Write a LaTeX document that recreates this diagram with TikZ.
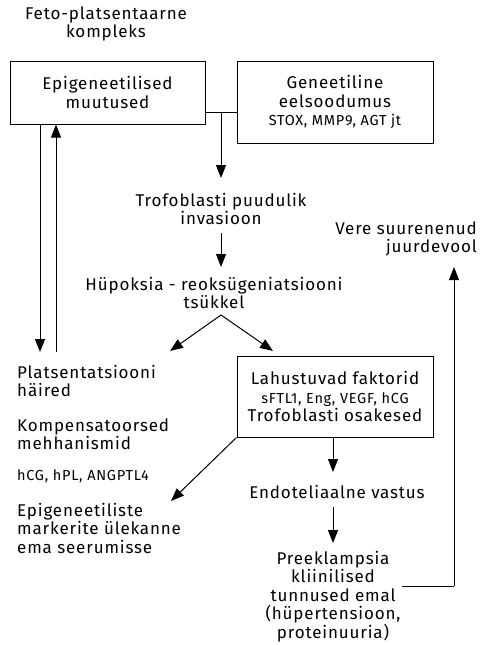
\documentclass[tikz,border=0pt]{standalone}
\usepackage{fontspec}
\setmainfont[LetterSpace=5]{Fira Sans}
\usetikzlibrary{arrows.meta}

\newcommand{\bigtxt}{\fontsize{17}{18.5}\selectfont}
\newcommand{\smltxt}{\fontsize{14.5}{18.5}\selectfont}
\tikzset{
  box/.style={draw=black, line width=1pt, align=center, inner sep=0pt, font=\bigtxt},
  txt/.style={align=center, inner sep=0pt, font=\bigtxt},
  lefttxt/.style={align=left, anchor=west, inner sep=0pt, font=\bigtxt},
  arr/.style={-{Triangle[width=10pt,length=13pt]}, line width=1pt},
  ln/.style={line width=1pt}
}

\begin{document}
\begin{tikzpicture}[x=1pt, y=-1pt]
\useasboundingbox (0,0) rectangle (481,645);

\node[txt](feto) at (106,24) {Feto-platsentaarne\\kompleks};
\node[box, minimum width=195pt, minimum height=63pt](epi) at (107.5,92.5) {Epigeneetilised\\muutused};
\node[box, minimum width=196pt, minimum height=82pt](gen) at (335,102) {Geneetiline\\eelsoodumus\\{\smltxt STOX, MMP9, AGT jt}};
\node[txt](trof) at (221,209) {Trofoblasti puudulik\\invasioon};
\node[txt](hyp) at (214,293) {Hüpoksia - reoksügeniatsiooni\\tsükkel};
\node[lefttxt](plats) at (17,381) {Platsentatsiooni\\häired};
\node[lefttxt](komp) at (17,434) {Kompensatoorsed\\mehhanismid};
\node[lefttxt, font=\smltxt](horm) at (17,476) {hCG, hPL, ANGPTL4};
\node[lefttxt](mark) at (17,528) {Epigeneetiliste\\markerite ülekanne\\ema seerumisse};
\node[box, minimum width=196pt, minimum height=81pt](lah) at (335,396.5) {Lahustuvad faktorid\\{\smltxt sFTL1, Eng, VEGF, hCG}\\Trofoblasti osakesed};
\node[txt](endo) at (337,492) {Endoteliaalne vastus};
\node[txt](pre) at (333,596.5) {Preeklampsia\\kliinilised\\tunnused emal\\(hüpertensioon,\\proteinuuria)};
\node[txt, align=right, anchor=east](vere) at (477,239) {Vere suurenenud\\juurdevool};

\coordinate (j) at (221,112);
\coordinate (hyptop) at (221,315);
\coordinate (pl1) at (40,352);
\coordinate (pl2) at (56,352);
\coordinate (corner) at (454,586);

\draw[ln] (epi.east |- j) -- (gen.west |- j);
\draw[arr] (j) -- (221,178);
\draw[arr] (trof.south) ++(0,8) -- (221,267);
\draw[arr] (hyptop) -- (170,351);
\draw[arr] (hyptop) -- (273,351);
\draw[arr] (epi.south -| pl1) -- (pl1);
\draw[arr] (pl2) -- (epi.south -| pl2);
\draw[arr] (lah.south west) -- (171,501);
\draw[arr] (lah.south) ++(-2,0) -- (333,472);
\draw[arr] (333,507) -- (333,543);
\draw[ln] (402,586) -- (corner);
\draw[arr] (corner) -- (454,267);
\end{tikzpicture}
\end{document}
